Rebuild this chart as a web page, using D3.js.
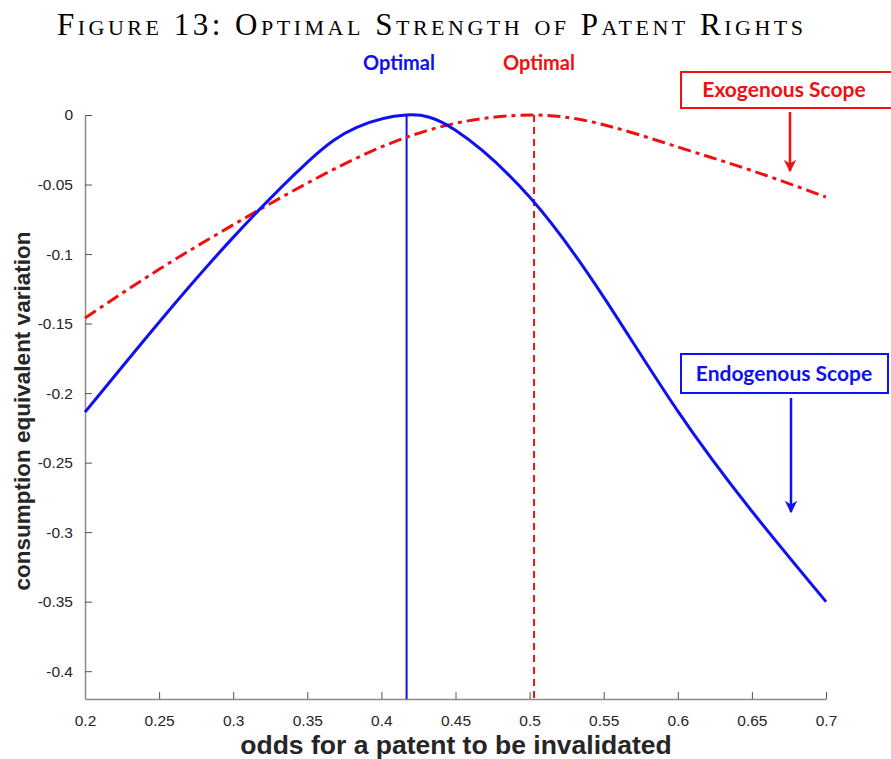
<!DOCTYPE html>
<html>
<head>
<meta charset="utf-8">
<script src="https://cdn.jsdelivr.net/npm/d3@7"></script>
<style>
  body { margin: 0; background: #fff; }
  svg { display: block; }
</style>
</head>
<body>
<svg id="chart" width="891" height="759"></svg>
<script>
// values
const oddsEndo = [0.2, 0.25, 0.3, 0.35, 0.383, 0.417, 0.45, 0.5, 0.55, 0.6, 0.65, 0.7];
const welfareEndo = [-0.2137, -0.149, -0.088, -0.034, -0.009, 0, -0.011, -0.059, -0.131, -0.213, -0.285, -0.350];
const oddsExo = [0.2, 0.25, 0.3, 0.35, 0.4, 0.45, 0.503, 0.55, 0.6, 0.65, 0.7];
const welfareExo = [-0.146, -0.111, -0.079, -0.049, -0.023, -0.006, 0, -0.007, -0.023, -0.040, -0.059];
const optEndo = 0.417, optExo = 0.503;
const xTicks = [0.2, 0.25, 0.3, 0.35, 0.4, 0.45, 0.5, 0.55, 0.6, 0.65, 0.7];
const yTicks = [0, -0.05, -0.1, -0.15, -0.2, -0.25, -0.3, -0.35, -0.4];

const svg = d3.select("#chart");
const blue = "#1010f0", red = "#f01010";
const sans = "Liberation Sans, Arial, sans-serif";
const calib = "Lato, Open Sans, sans-serif";

let x = d3.scaleLinear().domain([0.2, 0.7]).range([85, 826]);
let y = d3.scaleLinear().domain([-0.42, 0]).range([699, 115]);

// title
svg.append("text")
    .attr("x", 57).attr("y", 35)
    .attr("textLength", 746).attr("lengthAdjust", "spacing")
    .attr("font-family", "Liberation Serif, DejaVu Serif, serif")
    .attr("font-size", 31)
    .style("font-variant", "small-caps")
    .text("Figure 13: Optimal Strength of Patent Rights");

// axes, ticks pointing inward like matlab
let xAxis = svg.append("g")
    .attr("transform", "translate(0," + y(-0.42) + ")")
    .call(d3.axisBottom(x).tickValues(xTicks).tickSizeInner(-7).tickSizeOuter(0).tickPadding(16).tickFormat(d => String(d)));
let yAxis = svg.append("g")
    .attr("transform", "translate(" + x(0.2) + ",0)")
    .call(d3.axisLeft(y).tickValues(yTicks).tickSizeInner(-7).tickSizeOuter(0).tickPadding(12).tickFormat(d => String(d)));

[xAxis, yAxis].forEach(g => {
    g.select(".domain").attr("stroke", "#8c8c8c").attr("stroke-width", 1.5);
    g.selectAll(".tick line").attr("stroke", "#555").attr("stroke-width", 1);
    g.selectAll(".tick text").attr("font-family", sans).attr("font-size", 15.5).attr("fill", "#262626");
});

// axis titles
svg.append("text")
    .attr("x", 456).attr("y", 754)
    .attr("text-anchor", "middle")
    .attr("font-family", sans).attr("font-weight", "bold").attr("font-size", 26.5)
    .attr("fill", "#262626")
    .text("odds for a patent to be invalidated");
svg.append("text")
    .attr("transform", "translate(30,411) rotate(-90)")
    .attr("text-anchor", "middle")
    .attr("font-family", sans).attr("font-weight", "bold").attr("font-size", 22.5)
    .attr("fill", "#262626")
    .text("consumption equivalent variation");

// optimal markers
svg.append("line")
    .attr("x1", x(optEndo)).attr("x2", x(optEndo))
    .attr("y1", y(0)).attr("y2", y(-0.42))
    .attr("stroke", blue).attr("stroke-width", 2);
svg.append("line")
    .attr("x1", x(optExo)).attr("x2", x(optExo))
    .attr("y1", y(0)).attr("y2", y(-0.42))
    .attr("stroke", red).attr("stroke-width", 2)
    .attr("stroke-dasharray", "7,5");

// curves
let line = d3.line().x(d => x(d[0])).y(d => y(d[1])).curve(d3.curveNatural);

svg.append("path")
    .datum(d3.zip(oddsExo, welfareExo))
    .attr("d", line)
    .attr("fill", "none").attr("stroke", red).attr("stroke-width", 3)
    .attr("stroke-dasharray", "13,5,4,5");
svg.append("path")
    .datum(d3.zip(oddsEndo, welfareEndo))
    .attr("d", line)
    .attr("fill", "none").attr("stroke", blue).attr("stroke-width", 3);

// annotations
svg.append("text").attr("x", 399).attr("y", 70).attr("text-anchor", "middle")
    .attr("font-family", calib).attr("font-weight", "bold").attr("font-size", 20)
    .attr("fill", blue).text("Optimal");
svg.append("text").attr("x", 539).attr("y", 70).attr("text-anchor", "middle")
    .attr("font-family", calib).attr("font-weight", "bold").attr("font-size", 20)
    .attr("fill", red).text("Optimal");

let defs = svg.append("defs");
[["arrR", red], ["arrB", blue]].forEach(([id, c]) => {
    defs.append("marker").attr("id", id)
        .attr("viewBox", "0 0 10 10").attr("refX", 9).attr("refY", 5)
        .attr("markerWidth", 5).attr("markerHeight", 5).attr("orient", "auto")
        .attr("markerUnits", "strokeWidth")
        .append("path").attr("d", "M0,0 L10,5 L0,10 L3,5 Z").attr("fill", c);
});

function callout(bx, by, bw, bh, tx, label, c, ax, ay1, ay2, mk) {
    svg.append("rect").attr("x", bx).attr("y", by).attr("width", bw).attr("height", bh)
        .attr("fill", "#fff").attr("stroke", c).attr("stroke-width", 2);
    svg.append("text").attr("x", tx).attr("y", by + bh / 2 + 7)
        .attr("text-anchor", "middle")
        .attr("font-family", calib).attr("font-weight", "bold").attr("font-size", 21)
        .attr("fill", c).text(label);
    svg.append("line").attr("x1", ax).attr("x2", ax).attr("y1", ay1).attr("y2", ay2)
        .attr("stroke", c).attr("stroke-width", 2.5).attr("marker-end", "url(#" + mk + ")");
}
callout(681, 72, 214, 36, 784, "Exogenous Scope", red, 790, 112, 171, "arrR");
callout(681, 354, 207, 39, 784, "Endogenous Scope", blue, 791, 398, 512, "arrB");
</script>
</body>
</html>
